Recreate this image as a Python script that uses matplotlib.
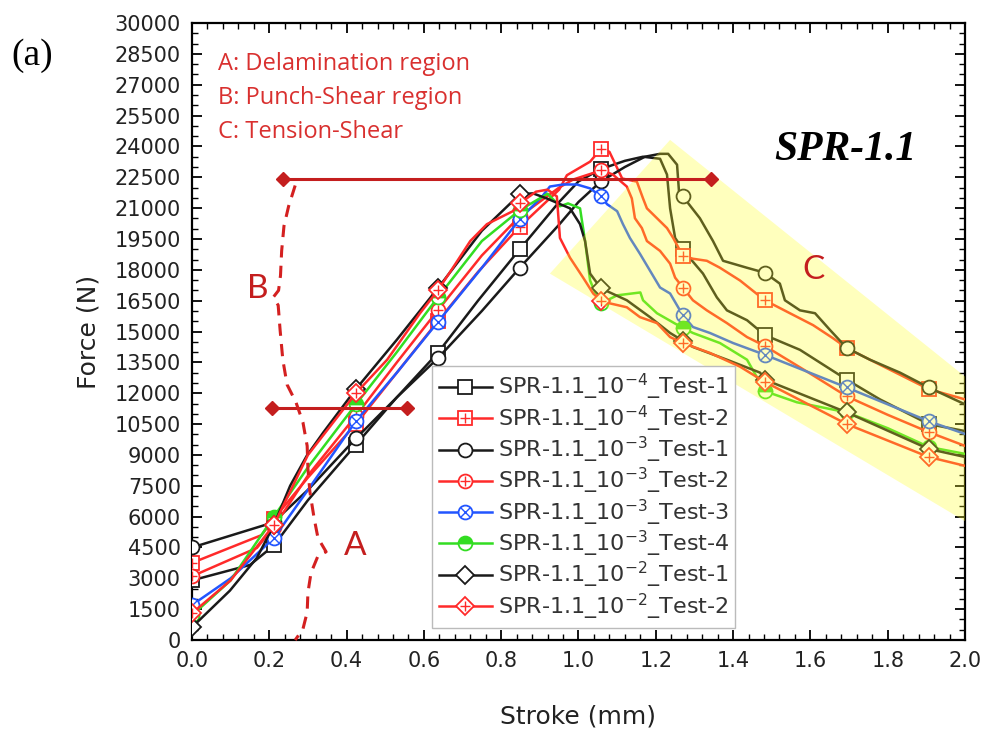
import numpy as np
import matplotlib
matplotlib.use('Agg')
import matplotlib.pyplot as plt
from matplotlib.legend_handler import HandlerTuple
from matplotlib.ticker import MultipleLocator, FormatStrFormatter

plt.rcParams['mathtext.default'] = 'regular'

# stroke positions where the symbols sit
MARK_X = [0.0, 0.212, 0.424, 0.636, 0.848, 1.058, 1.27, 1.482, 1.694, 1.906]

# 10^-4 Test-1 (black, square)
s1_x = [0, 0.15, 0.212, 0.30, 0.424, 0.53, 0.636, 0.74, 0.848, 0.95, 1.0, 1.058, 1.12, 1.167,
        1.211, 1.229, 1.237, 1.25, 1.27, 1.294, 1.322, 1.358, 1.384, 1.436, 1.482, 1.573, 1.694,
        1.78, 1.906, 2.0]
s1_y = [2900, 3650, 4600, 6800, 9500, 11800, 13960, 16500, 19000, 21300, 22300, 22900, 23300, 23500,
        23400, 22630, 20990, 19550, 19000, 18440, 17820, 16660, 16030, 15550, 14830, 14110, 12660,
        11700, 10500, 10160]

# 10^-4 Test-2 (red, square)
s2_x = [0, 0.18, 0.212, 0.30, 0.424, 0.53, 0.636, 0.74, 0.848, 0.95, 0.97, 1.03, 1.058, 1.08,
        1.113, 1.151, 1.167, 1.177, 1.203, 1.229, 1.245, 1.27, 1.296, 1.332, 1.366, 1.418, 1.482,
        1.547, 1.607, 1.658, 1.694, 1.754, 1.906, 2.0]
s2_y = [3750, 5100, 5900, 7900, 10500, 13000, 15500, 17900, 20100, 21900, 22600, 23260, 23880, 23740,
        22440, 22290, 21470, 20990, 20510, 20030, 19550, 18680, 18540, 18440, 18100, 17480, 16520,
        15890, 15310, 14680, 14200, 13630, 12200, 11700]

# 10^-3 Test-1 (black, circle)
s3_x = [0, 0.19, 0.212, 0.30, 0.424, 0.53, 0.636, 0.75, 0.848, 0.95, 1.0, 1.058, 1.12, 1.172,
        1.211, 1.232, 1.255, 1.26, 1.27, 1.314, 1.348, 1.374, 1.436, 1.482, 1.521, 1.534, 1.573,
        1.612, 1.651, 1.694, 1.754, 1.832, 1.906, 2.0]
s3_y = [4500, 5600, 5750, 7300, 9800, 11800, 13700, 16000, 18100, 20200, 21300, 22300, 23000, 23500,
        23640, 23640, 23110, 21810, 21570, 20510, 19400, 18440, 18100, 17860, 17330, 16520, 16030,
        15890, 15070, 14200, 13630, 13000, 12280, 11460]

# 10^-3 Test-2 (red, circle)
s4_x = [0, 0.168, 0.212, 0.30, 0.424, 0.53, 0.636, 0.75, 0.848, 0.95, 0.986, 1.048, 1.058, 1.089,
        1.125, 1.138, 1.146, 1.164, 1.177, 1.211, 1.237, 1.25, 1.27, 1.296, 1.332, 1.384, 1.436,
        1.482, 1.60, 1.694, 1.80, 1.906, 2.0]
s4_y = [3100, 4480, 5500, 8000, 10900, 13500, 16030, 18700, 20600, 22000, 22390, 22770, 22870, 22630,
        22050, 21470, 20510, 20030, 19400, 18920, 18300, 17620, 17140, 16520, 16030, 15410, 14730,
        14300, 12950, 11850, 10950, 10110, 9440]

# 10^-3 Test-3 (blue, crossed circle)
s5_x = [0, 0.1, 0.212, 0.30, 0.424, 0.53, 0.636, 0.75, 0.848, 0.906, 0.926, 0.96, 0.996, 1.03,
        1.058, 1.074, 1.1, 1.115, 1.133, 1.159, 1.185, 1.211, 1.237, 1.27, 1.296, 1.34, 1.4, 1.482,
        1.694, 1.906, 2.0]
s5_y = [1700, 3000, 4960, 7300, 10640, 13000, 15460, 18100, 20460, 21570, 22050, 22150, 22150, 21960,
        21570, 21190, 20850, 20220, 19550, 18780, 17960, 17140, 16850, 15790, 15220, 14930, 14440, 13870,
        12280, 10640, 10020]

# 10^-3 Test-4 (green, half filled circle)
s6_x = [0, 0.1, 0.212, 0.30, 0.424, 0.53, 0.636, 0.75, 0.848, 0.92, 0.952, 0.973, 1.004, 1.017,
        1.03, 1.048, 1.058, 1.1, 1.16, 1.167, 1.203, 1.27, 1.296, 1.366, 1.436, 1.482, 1.565, 1.694,
        1.80, 1.906, 2.0]
s6_y = [1200, 2900, 6000, 8400, 11460, 14000, 16660, 19400, 20900, 21700, 21090, 21230, 20990, 19400,
        17480, 16660, 16370, 16760, 16900, 16520, 15890, 15170, 14930, 14440, 13630, 12100, 11560, 11070,
        10300, 9390, 9050]

# 10^-2 Test-1 (black, diamond)
s7_x = [0, 0.098, 0.168, 0.212, 0.254, 0.297, 0.34, 0.424, 0.53, 0.636, 0.75, 0.848, 0.882, 0.918,
        0.978, 1.004, 1.017, 1.03, 1.058, 1.125, 1.185, 1.237, 1.27, 1.296, 1.384, 1.47, 1.482, 1.694,
        1.906, 2.0]
s7_y = [620, 2400, 4000, 5600, 7500, 8960, 10100, 12200, 14600, 17100, 19900, 21670, 21720, 21470,
        20990, 20220, 19400, 17820, 17100, 16520, 15700, 14930, 14550, 14250, 13630, 13000, 12660, 11070,
        9290, 8900]

# 10^-2 Test-2 (red, diamond)
s8_x = [0, 0.1, 0.212, 0.30, 0.424, 0.505, 0.59, 0.636, 0.675, 0.72, 0.763, 0.83, 0.848, 0.89, 0.92,
        0.944, 0.952, 0.978, 1.012, 1.038, 1.058, 1.081, 1.125, 1.159, 1.203, 1.237, 1.27, 1.34, 1.418,
        1.482, 1.694, 1.906, 2.0]
s8_y = [1300, 2900, 5600, 9000, 12000, 13630, 15890, 17000, 18100, 19400, 20220, 20850, 21230, 21800,
        21900, 21570, 19550, 18590, 17620, 16850, 16500, 16370, 16180, 15700, 15410, 14730, 14440, 13960,
        13290, 12550, 10500, 8900, 8470]

labels = ['SPR-1.1_10$^{-4}$_Test-1', 'SPR-1.1_10$^{-4}$_Test-2',
          'SPR-1.1_10$^{-3}$_Test-1', 'SPR-1.1_10$^{-3}$_Test-2',
          'SPR-1.1_10$^{-3}$_Test-3', 'SPR-1.1_10$^{-3}$_Test-4',
          'SPR-1.1_10$^{-2}$_Test-1', 'SPR-1.1_10$^{-2}$_Test-2']

# tension-shear band (C)
band_x = [0.926, 1.237, 2.0, 2.0]
band_y = [17817, 24318, 12809, 5778]

# brace between delamination (A) and punch-shear (B)
brace_x = [0.267, 0.250, 0.238, 0.232, 0.229, 0.224, 0.210, 0.223, 0.228, 0.235, 0.246, 0.269,
           0.287, 0.298, 0.300, 0.305, 0.316, 0.326, 0.347, 0.326, 0.308, 0.300, 0.298, 0.287, 0.267]
brace_y = [22100, 21090, 20130, 18920, 17720, 17000, 16660, 16280, 15070, 13630, 12420, 11560,
           10590, 9440, 8330, 7220, 5920, 4960, 4290, 4090, 3270, 2310, 1350, 530, 0]

fig = plt.figure(figsize=(9.81, 7.36), dpi=100)
ax = fig.add_axes([0.1957, 0.1304, 0.788, 0.8383])

BLACK = '#1a1a1a'
RED = '#ff2a2a'
BLUE = '#2255ff'
GREEN = '#33dd22'


def draw(x, y, color, marker, inner=None, green=False):
    idx = [i for i, v in enumerate(x) if any(abs(v - m) < 1e-6 for m in MARK_X)]
    kw = dict(color=color, lw=1.8, marker=marker, markevery=idx, ms=10 if marker != 'D' else 9,
              mec=color, mew=1.3, zorder=3)
    if green:
        kw.update(mfc=color, mfcalt='white', fillstyle='top')
    else:
        kw.update(mfc='white')
    line, = ax.plot(x, y, **kw)
    if inner is None:
        return line
    over, = ax.plot(np.array(x)[idx], np.array(y)[idx], ls='none', marker=inner, ms=7,
                    mec=color, mew=1.0, zorder=3)
    return (line, over)


handles = [
    draw(s1_x, s1_y, BLACK, 's'),
    draw(s2_x, s2_y, RED, 's', inner='+'),
    draw(s3_x, s3_y, BLACK, 'o'),
    draw(s4_x, s4_y, RED, 'o', inner='+'),
    draw(s5_x, s5_y, BLUE, 'o', inner='x'),
    draw(s6_x, s6_y, GREEN, 'o', green=True),
    draw(s7_x, s7_y, BLACK, 'D'),
    draw(s8_x, s8_y, RED, 'D', inner='+'),
]

ax.fill(band_x, band_y, color='#ffff26', alpha=0.3, lw=0, zorder=4)

DARKRED = '#c41e1e'
ax.plot([0.235, 1.343], [22400, 22400], color=DARKRED, lw=2.2, marker='D', ms=7, zorder=5)
ax.plot([0.207, 0.556], [11300, 11300], color=DARKRED, lw=2.2, marker='D', ms=7, zorder=5)
ax.plot(brace_x, brace_y, color='#d42020', lw=2.2, ls=(0, (4, 2.7)), zorder=5, clip_on=False)

TXT = '#d9302f'
for k, txt in enumerate(['A: Delamination region', 'B: Punch-Shear region', 'C: Tension-Shear']):
    ax.text(0.067, 28000 - 1640 * k, txt, color=TXT, fontsize=17, family='Open Sans',
            va='center', zorder=5)
ax.text(0.171, 17050, 'B', color='#c41e1e', fontsize=24, family='Lato', ha='center', va='center', zorder=5)
ax.text(0.422, 4550, 'A', color='#c41e1e', fontsize=24, family='Lato', ha='center', va='center', zorder=5)
ax.text(1.607, 18000, 'C', color='#c41e1e', fontsize=24, family='Lato', ha='center', va='center', zorder=5)
ax.text(1.69, 23820, 'SPR-1.1', fontsize=30, family='Liberation Serif', weight='bold', style='italic',
        ha='center', va='center', zorder=5)
fig.text(0.012, 0.925, '(a)', fontsize=27, family='Liberation Serif', va='center')

leg = ax.legend(handles, labels, loc='lower left', bbox_to_anchor=(0.3105, 0.019), fontsize=16,
                handler_map={tuple: HandlerTuple(ndivide=1, pad=0)}, handlelength=2.4,
                handletextpad=0.25, labelspacing=0.05, borderpad=0.3, borderaxespad=0,
                fancybox=False, framealpha=1, edgecolor='#bbbbbb', labelcolor='#333333')
leg.set_zorder(6)

ax.set_xlim(0, 2.0)
ax.set_ylim(0, 30000)
ax.xaxis.set_major_locator(MultipleLocator(0.2))
ax.xaxis.set_minor_locator(MultipleLocator(0.04))
ax.xaxis.set_major_formatter(FormatStrFormatter('%.1f'))
ax.yaxis.set_major_locator(MultipleLocator(1500))
ax.yaxis.set_minor_locator(MultipleLocator(500))
ax.tick_params(which='both', direction='in', top=True, right=True, labelsize=15, labelcolor='#222222')
ax.tick_params(which='major', length=7, width=1.3, pad=8)
ax.tick_params(which='minor', length=4, width=1.0)
for sp in ax.spines.values():
    sp.set_linewidth(1.6)

ax.set_xlabel('Stroke (mm)', fontsize=18, color='#222222', labelpad=24)
ax.set_ylabel('Force (N)', fontsize=18, color='#222222', labelpad=10)

fig.savefig('out.png', dpi=100)
